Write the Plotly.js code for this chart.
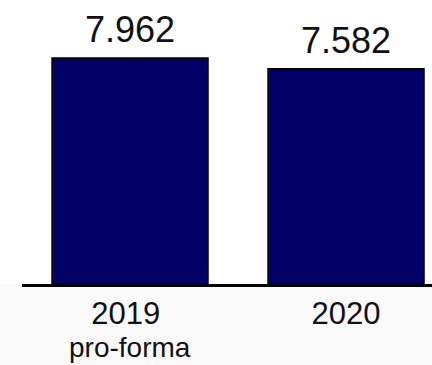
<!DOCTYPE html>
<html>
<head>
<meta charset="utf-8">
<script src="https://cdn.plot.ly/plotly-3.0.1.min.js"></script>
<style>html,body{margin:0;padding:0;background:#fff;}#chart{width:432px;height:365px;}</style>
</head>
<body>
<div id="chart"></div>
<script>
var categories = ["2019", "2020"];
var tickLabels = ["2019\u00a0", "2020"];
var subLabels = ["pro-forma", ""];
var values = [7.962, 7.582];
var valueLabels = ["7.962", "7.582"];

var FONT = "Liberation Sans, Arial, sans-serif";

var trace = {
  type: "bar",
  x: [0, 1],
  y: values,
  width: 0.722,
  marker: {color: "#000066", line: {color: "#000000", width: 1.5}},
  hoverinfo: "none"
};

var annotations = [];
values.forEach(function (v, i) {
  annotations.push({
    x: i, y: v, xref: "x", yref: "y",
    text: valueLabels[i], showarrow: false,
    yanchor: "bottom", yshift: 6,
    font: {family: FONT, size: 36, color: "#111111"}
  });
  if (subLabels[i]) {
    annotations.push({
      x: i, y: 0, xref: "x", yref: "paper",
      text: subLabels[i], showarrow: false,
      yanchor: "top", yshift: -46,
      font: {family: FONT, size: 28, color: "#111111"}
    });
  }
});

var layout = {
  width: 432, height: 365,
  margin: {l: 22, r: 0, t: 0, b: 81},
  paper_bgcolor: "#ffffff",
  plot_bgcolor: "#ffffff",
  showlegend: false,
  xaxis: {
    type: "linear",
    range: [-0.5, 1.398],
    tickvals: [0, 1],
    ticktext: tickLabels,
    showline: true, linecolor: "#000000", linewidth: 3,
    ticks: "", showgrid: false, zeroline: false,
    tickfont: {family: FONT, size: 31, color: "#111111"},
    fixedrange: true
  },
  yaxis: {
    range: [0, 10.0],
    visible: false, showgrid: false, zeroline: false, fixedrange: true
  },
  annotations: annotations,
  shapes: [{
    type: "rect", xref: "paper", yref: "paper", layer: "below",
    x0: -0.06, x1: 1.0, y0: 0, y1: -0.3,
    fillcolor: "#f9f9f9", line: {width: 0}
  }]
};

Plotly.newPlot("chart", [trace], layout, {displayModeBar: false, staticPlot: true});
</script>
</body>
</html>
